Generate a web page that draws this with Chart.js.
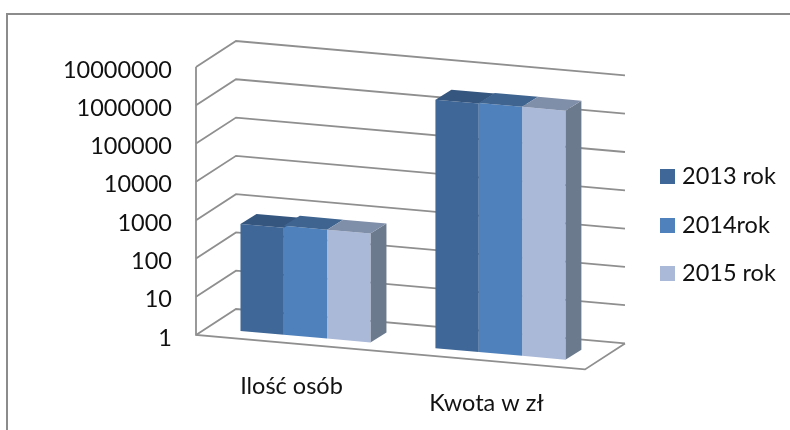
<!DOCTYPE html>
<html>
<head>
<meta charset="utf-8">
<script src="https://cdn.jsdelivr.net/npm/chart.js@4"></script>
<style>
  html, body { margin: 0; padding: 0; background: #fff; }
  canvas { display: block; }
</style>
</head>
<body>
<canvas id="wykres" width="790" height="430"></canvas>
<script>
const categories = ['Ilość osób', 'Kwota w zł'];
const rok2013 = [620, 3100000];
const rok2014 = [700, 3200000];
const rok2015 = [700, 3200000];
const seriesNames = ['2013 rok', '2014rok', '2015 rok'];
const tickValues = [1, 10, 100, 1000, 10000, 100000, 1000000, 10000000];

const FONT = { family: 'Lato, Carlito, sans-serif', size: 23.5 };
const GRID = '#8f8f8f';
const FRONT = ['#3f6797', '#4f81bd', '#aab9d8'];
const TOP = ['#35567f', '#3e648f', '#7f8ea9'];
const SIDE = '#6c7a8d';

// 3d look: everything slopes down to the right by SLOPE
const SLOPE = 0.0885;
const WALL_SHIFT = 12;      // wall front corner sits left of the chart area
const BAR_LIFT = -8;        // bars stand further back than the floor edge
const BAR_DEPTH = { x: 16, y: -10 };
const WALL_DEPTH = { x: 40, y: -26 };
const WALL_RIGHT = 625;

function slopeAt(x, x0) {
  return SLOPE * (x - x0);
}

// legend swatch as an image, the built in box leaves too wide a gap to the text
function swatch(color) {
  const c = document.createElement('canvas');
  c.width = 15;
  c.height = 15;
  const g = c.getContext('2d');
  g.fillStyle = color;
  g.fillRect(0, 0, 15, 15);
  return c;
}

function barCorners(chart, bar) {
  const x0 = chart.chartArea.left - WALL_SHIFT;
  const l = bar.x - bar.width / 2;
  const r = bar.x + bar.width / 2;
  return {
    l, r,
    yl: bar.y + slopeAt(l, x0) + BAR_LIFT,
    yr: bar.y + slopeAt(r, x0) + BAR_LIFT,
    br: bar.base + slopeAt(r, x0) + BAR_LIFT
  };
}

const scene3d = {
  id: 'scene3d',
  afterLayout(chart) {
    // move the legend out from the plot, the layout leaves it too close
    const l = chart.legend;
    const w = l.width;
    l.left = 639.75;
    l.right = 639.75 + w;
    l.top += 1;
    l.bottom += 1;
  },
  beforeDatasetsDraw(chart) {
    const ctx = chart.ctx;
    const y = chart.scales.y;
    const x0 = chart.chartArea.left - WALL_SHIFT;

    ctx.save();
    // frame
    ctx.strokeStyle = '#8c8c8c';
    ctx.lineWidth = 2;
    ctx.strokeRect(7, 14, 800, 500);

    ctx.strokeStyle = GRID;
    ctx.lineWidth = 1.8;
    tickValues.forEach(v => {
      const py = y.getPixelForValue(v);
      const bx = x0 + WALL_DEPTH.x;
      const by = py + WALL_DEPTH.y;
      ctx.beginPath();
      ctx.moveTo(x0, py);
      ctx.lineTo(bx, by);
      ctx.lineTo(WALL_RIGHT, by + slopeAt(WALL_RIGHT, bx));
      ctx.stroke();
    });
    // left edge and floor
    const top = y.getPixelForValue(tickValues[tickValues.length - 1]);
    const bottom = y.getPixelForValue(tickValues[0]);
    const fx = WALL_RIGHT - WALL_DEPTH.x;
    ctx.beginPath();
    ctx.moveTo(x0, top);
    ctx.lineTo(x0, bottom);
    ctx.lineTo(fx, bottom + slopeAt(fx, x0));
    ctx.lineTo(WALL_RIGHT, bottom + slopeAt(fx, x0) + WALL_DEPTH.y);
    ctx.stroke();

    // category names follow the slope of the floor
    ctx.fillStyle = '#111';
    ctx.font = FONT.size + 'px ' + FONT.family;
    ctx.textAlign = 'center';
    ctx.textBaseline = 'middle';
    chart.data.labels.forEach((name, i) => {
      const tx = chart.scales.x.getPixelForTick(i) - 14;
      ctx.fillText(name, tx, bottom + slopeAt(tx, x0) + 43);
    });

    // only the last series shows its side, the rest sit behind the next front
    const last = chart.data.datasets.length - 1;
    chart.getDatasetMeta(last).data.forEach(bar => {
      const c = barCorners(chart, bar);
      ctx.fillStyle = SIDE;
      ctx.beginPath();
      ctx.moveTo(c.r, c.yr);
      ctx.lineTo(c.r + BAR_DEPTH.x, c.yr + BAR_DEPTH.y);
      ctx.lineTo(c.r + BAR_DEPTH.x, c.br + BAR_DEPTH.y);
      ctx.lineTo(c.r, c.br);
      ctx.closePath();
      ctx.fill();
    });
    ctx.restore();
  },
  beforeDatasetDraw(chart) {
    const x0 = chart.chartArea.left - WALL_SHIFT;
    chart.ctx.save();
    chart.ctx.transform(1, SLOPE, 0, 1, 0, BAR_LIFT - SLOPE * x0);
  },
  afterDatasetDraw(chart) {
    chart.ctx.restore();
  },
  afterDatasetsDraw(chart) {
    const ctx = chart.ctx;
    chart.data.datasets.forEach((ds, s) => {
      chart.getDatasetMeta(s).data.forEach(bar => {
        const c = barCorners(chart, bar);
        ctx.fillStyle = TOP[s];
        ctx.beginPath();
        ctx.moveTo(c.l, c.yl);
        ctx.lineTo(c.l + BAR_DEPTH.x, c.yl + BAR_DEPTH.y);
        ctx.lineTo(c.r + BAR_DEPTH.x, c.yr + BAR_DEPTH.y);
        ctx.lineTo(c.r, c.yr);
        ctx.closePath();
        ctx.fill();
      });
    });
  }
};

new Chart(document.getElementById('wykres'), {
  type: 'bar',
  data: {
    labels: categories,
    datasets: [
      { label: seriesNames[0], data: rok2013, backgroundColor: FRONT[0] },
      { label: seriesNames[1], data: rok2014, backgroundColor: FRONT[1] },
      { label: seriesNames[2], data: rok2015, backgroundColor: FRONT[2] }
    ]
  },
  plugins: [scene3d],
  options: {
    responsive: false,
    animation: false,
    events: [],
    layout: { padding: { top: 67, bottom: 49, left: 60, right: 46 } },
    datasets: { bar: { barPercentage: 1, categoryPercentage: 2 / 3, clip: false } },
    scales: {
      x: {
        type: 'category',
        grid: { display: false },
        border: { display: false },
        ticks: { display: false },
        afterFit(s) { s.height = 46; }
      },
      y: {
        type: 'logarithmic',
        min: 1,
        max: 10000000,
        grid: { display: false },
        border: { display: false },
        afterBuildTicks(s) { s.ticks = tickValues.map(v => ({ value: v })); },
        afterFit(s) { s.width = 148; },
        ticks: {
          color: '#111',
          font: FONT,
          padding: 28,
          labelOffset: 3,
          callback: v => String(v)
        }
      }
    },
    plugins: {
      tooltip: { enabled: false },
      legend: {
        position: 'right',
        labels: {
          boxWidth: 5.5,
          boxHeight: 5.5,
          padding: 25,
          color: '#111',
          font: FONT,
          usePointStyle: true,
          generateLabels(chart) {
            const items = Chart.defaults.plugins.legend.labels.generateLabels(chart);
            return items.map((it, i) => ({ ...it, pointStyle: swatch(FRONT[i]) }));
          }
        }
      }
    }
  }
});
</script>
</body>
</html>
